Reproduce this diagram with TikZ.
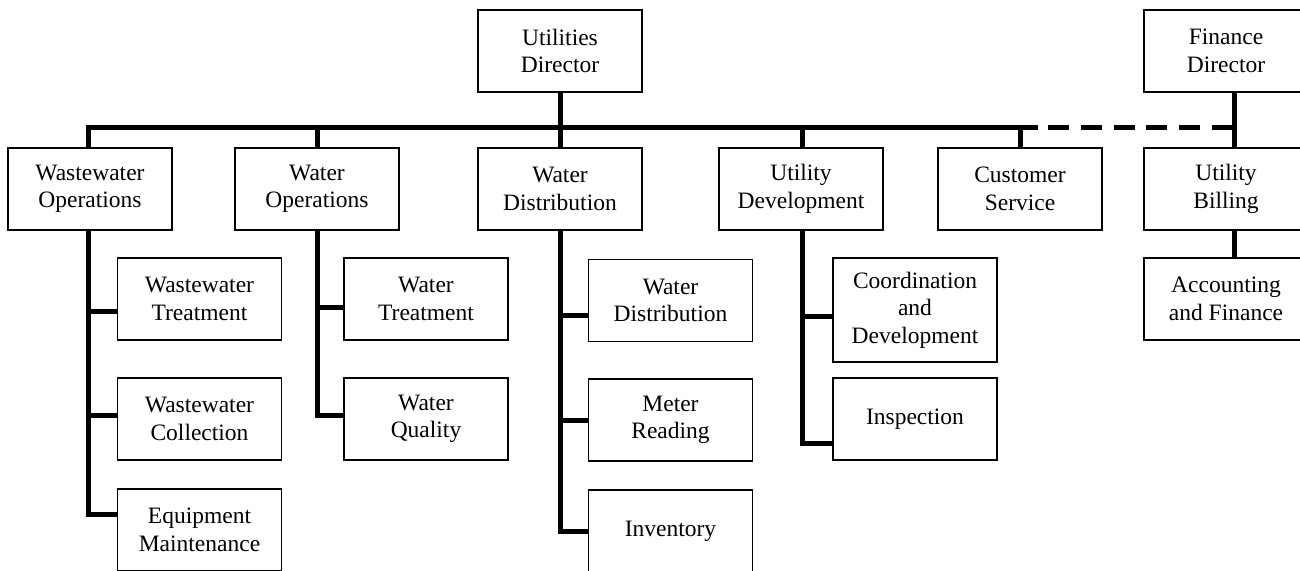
\documentclass[tikz,border=0pt]{standalone}
\usepackage{fontspec}
\setmainfont{Liberation Serif}
\begin{document}
\begin{tikzpicture}[x=1pt,y=-1pt,
  box/.style={draw=black,line width=1.3pt,fill=white,minimum width=164pt,minimum height=82pt,
    inner sep=0pt,align=center,font=\fontsize{23.5}{27.5}\selectfont},
  tallbox/.style={box,minimum height=104pt},
  bar/.style={line width=5pt,line cap=butt,line join=miter},
  dashbar/.style={bar,dash pattern=on 21pt off 11.8pt}]
\useasboundingbox (0,0) rectangle (1300,570);
\clip (0,0) rectangle (1300,570);
\fill[white] (0,0) rectangle (1300,570);
\coordinate (bar) at (0,127);
% top level
\node[box] (ud) at (560,51) {Utilities\\Director};
\node[box] (fd) at (1226,51) {Finance\\Director};
% second level
\node[box] (wwo) at (90,189) {Wastewater\\Operations};
\node[box] (wo) at (317,189) {Water\\Operations};
\node[box] (wd) at (560,189) {Water\\Distribution};
\node[box] (udv) at (801,189) {Utility\\Development};
\node[box] (cs) at (1020,189) {Customer\\Service};
\node[box] (ub) at (1226,189) {Utility\\Billing};
% third level
\node[box] (wwt) at (199.5,299) {Wastewater\\Treatment};
\node[box] (wwc) at (199.5,419) {Wastewater\\Collection};
\node[box] (em) at (199.5,530) {Equipment\\Maintenance};
\node[box] (wt) at (426,299) {Water\\Treatment};
\node[box] (wq) at (426,419) {Water\\Quality};
\node[box] (wds) at (670.5,300.5) {Water\\Distribution};
\node[box] (mr) at (670.5,420) {Meter\\Reading};
\node[box] (inv) at (670.5,531) {Inventory};
\node[tallbox] (cd) at (915,310) {Coordination\\and\\Development};
\node[box] (insp) at (915,419) {Inspection};
\node[box] (af) at (1226,299) {Accounting\\and Finance};
% main bar
\draw[bar] ([xshift=-2pt]wwo.north) -- ([xshift=-2pt]wwo.north |- bar) -- ([xshift=18pt]cs.north |- bar);
\draw[bar] (wo.north) -- (wo.north |- bar);
\draw[bar] (ud.south) -- (wd.north);
\draw[bar] ([xshift=1.5pt]udv.north) -- ([xshift=1.5pt]udv.north |- bar);
\draw[bar] (cs.north) -- (cs.north |- bar);
\draw[dashbar] ([xshift=28pt]cs.north |- bar) -- ([xshift=10.5pt]fd.south |- bar);
\draw[bar] ([xshift=8pt]fd.south) -- ([xshift=8pt]ub.north);
\draw[bar] ([xshift=8pt]ub.south) -- ([xshift=8pt]af.north);
% branches
\draw[bar] (wwt.west) ++(0,12.7) -| ([xshift=-2pt]wwo.south);
\draw[bar] (wwc.west) ++(0,-3.3) -| ([xshift=-2pt]wwo.south);
\draw[bar] (em.west) ++(0,-16) -| ([xshift=-2pt]wwo.south);
\draw[bar] (wt.west) ++(0,8) -| (wo.south);
\draw[bar] (wq.west) ++(0,-3.5) -| (wo.south);
\draw[bar] (wds.west) ++(0,15) -| (wd.south);
\draw[bar] (mr.west) ++(0,0) -| (wd.south);
\draw[bar] (inv.west) ++(0,0) -| (wd.south);
\draw[bar] (cd.west) ++(0,6.7) -| ([xshift=1.5pt]udv.south);
\draw[bar] (insp.west) ++(0,24) -| ([xshift=1.5pt]udv.south);
\end{tikzpicture}
\end{document}
